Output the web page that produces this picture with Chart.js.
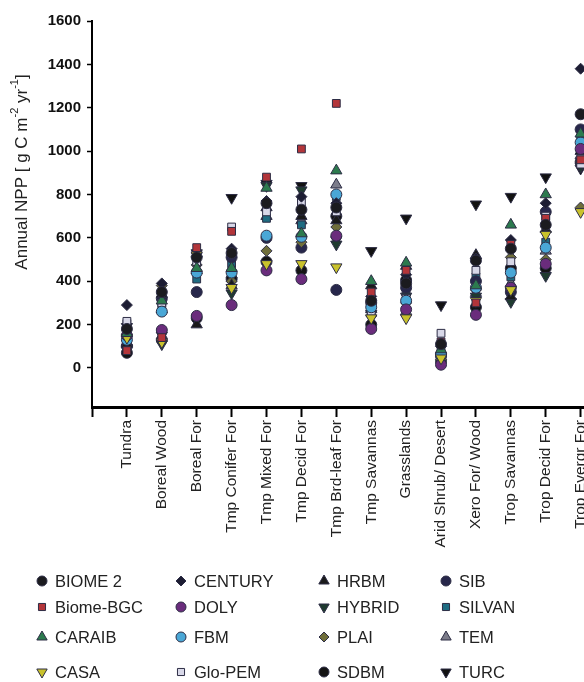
<!DOCTYPE html>
<html>
<head>
<meta charset="utf-8">
<script src="https://cdn.jsdelivr.net/npm/chart.js@4"></script>
<style>
  html, body { margin:0; padding:0; background:#fff; overflow:hidden; }
  #wrap { position:relative; width:584px; height:682px; overflow:hidden; font-family:"Liberation Sans", Arial, sans-serif; }
  #npp { position:absolute; left:0; top:0; }
  .lg { position:absolute; display:flex; align-items:center; font-size:16.5px; color:#222; white-space:nowrap; }
  .lg canvas { margin-right:6px; }
</style>
</head>
<body>
<div id="wrap">
  <canvas id="npp" width="600" height="580"></canvas>
  <div id="legend"></div>
</div>
<script>
// biome categories (x axis)
const biomes = ['Tundra','Boreal Wood','Boreal For','Tmp Conifer For','Tmp Mixed For','Tmp Decid For',
  'Tmp Brd-leaf For','Tmp Savannas','Grasslands','Arid Shrub/ Desert','Xero For/ Wood','Trop Savannas',
  'Trop Decid For','Trop Evergr For'];
const yTicks = [0,200,400,600,800,1000,1200,1400,1600];

// annual NPP per model, one value per biome (g C m-2 yr-1)
const biome2   = [180, 350, 510, 530, 760, 730, 740, 310, 390, 110, 495, 550, 660, 1170];
const biomeBgc = [ 80, 140, 555, 630, 880,1010,1220, 350, 450, 120, 300, 570, 690,  960];
const caraib   = [160, 310, 460, 460, 830, 620, 910, 400, 485,  85, 380, 660, 800, 1080];
const casa     = [140, 120, 520, 370, 480, 480, 465, 230, 230,  45, 310, 360, 615,  720];
const century  = [290, 390, 530, 550, 770, 790, 760, 330, 430, 100, 505, 590, 760, 1380];
const doly     = [150, 175, 240, 290, 450, 410, 610, 180, 270,  15, 245, 370, 480, 1010];
const fbm      = [130, 260, 440, 440, 610, 605, 800, 280, 310,  60, 370, 440, 555, 1040];
const gloPem   = [215, 300, 490, 650, 720, 765, 720, 260, 320, 160, 450, 490, 700,  940];
const hrbm     = [110, 340, 200, 380, 740, 700, 680, 380, 470,  80, 520, 330, 640, 1000];
const hybrid   = [ 90, 110, 500, 345, 840, 820, 570, 250, 330,  50, 330, 305, 425,  930];
const plai     = [100, 380, 475, 400, 540, 580, 650, 240, 300,  40, 360, 510, 500,  740];
const sdbm     = [ 70, 130, 230, 410, 490, 450, 700, 200, 405,  30, 280, 460, 460,  950];
const sib      = [100, 320, 350, 510, 600, 555, 360, 300, 370,  55, 400, 350, 720, 1100];
const silvan   = [205, 290, 410, 480, 690, 660, 790, 290, 350,  90, 420, 420, 580, 1060];
const tem      = [120, 270, 450, 430, 700, 680, 845, 270, 260,  70, 345, 390, 540,  980];
const turc     = [190, 150, 530, 785, 850, 840, 590, 540, 690, 290, 755, 790, 880,  920];

// name, values, style, colour, rotation, legend column/row
const models = [
  ['BIOME 2',   biome2,   'circle',   '#1b1b1f', 0,   0,0],
  ['Biome-BGC', biomeBgc, 'rect',     '#b3353a', 0,   0,1],
  ['CARAIB',    caraib,   'triangle', '#2c7a4e', 0,   0,2],
  ['CASA',      casa,     'triangle', '#c9c22c', 180, 0,3],
  ['CENTURY',   century,  'rectRot',  '#1d1d33', 0,   1,0],
  ['DOLY',      doly,     'circle',   '#6a2c7c', 0,   1,1],
  ['FBM',       fbm,      'circle',   '#4aa7d6', 0,   1,2],
  ['Glo-PEM',   gloPem,   'rect',     '#d8d8e8', 0,   1,3],
  ['HRBM',      hrbm,     'triangle', '#1a1a1a', 0,   2,0],
  ['HYBRID',    hybrid,   'triangle', '#1f3b2f', 180, 2,1],
  ['PLAI',      plai,     'rectRot',  '#6f6e3a', 0,   2,2],
  ['SDBM',      sdbm,     'circle',   '#141414', 0,   2,3],
  ['SIB',       sib,      'circle',   '#27274b', 0,   3,0],
  ['SILVAN',    silvan,   'rect',     '#1f6c82', 0,   3,1],
  ['TEM',       tem,      'triangle', '#7c7c8a', 0,   3,2],
  ['TURC',      turc,     'triangle', '#111111', 180, 3,3],
];

const datasets = models.map(([name, vals, style, col, rot]) => ({
  label: name,
  data: vals.map((v, i) => ({x: i, y: v})),
  pointStyle: style,
  rotation: rot,
  backgroundColor: col,
  borderColor: '#2d2d45',
  borderWidth: 1,
  pointRadius: style === 'triangle' ? 6.5 : 5.5,
  clip: false
}));

// y axis title with superscripts
const yTitle = {
  id: 'ytitle',
  afterDraw(chart){
    const ctx = chart.ctx;
    const parts = [['Annual NPP [ g C m',0],['-2',1],[' yr',0],['-1',1],[']',0]];
    const big = '17px "Liberation Sans", Arial, sans-serif', small = '11px "Liberation Sans", Arial, sans-serif';
    ctx.save();
    let total = 0;
    parts.forEach(([t,s]) => { ctx.font = s ? small : big; total += ctx.measureText(t).width; });
    ctx.translate(22, 172);
    ctx.rotate(-Math.PI/2);
    ctx.fillStyle = '#222';
    ctx.textBaseline = 'middle';
    let x = -total/2;
    parts.forEach(([t,s]) => {
      ctx.font = s ? small : big;
      ctx.fillText(t, x, s ? -7 : 0);
      x += ctx.measureText(t).width;
    });
    ctx.restore();
  }
};

// canvas is wider than the page; the plot runs off the right edge like the original
new Chart(document.getElementById('npp'), {
  type: 'scatter',
  data: { datasets },
  options: {
    responsive: false, animation: false, devicePixelRatio: 1,
    layout: { padding: { top: 21, left: 0, right: 0, bottom: 0 } },
    plugins: { legend: { display: false }, tooltip: { enabled: false } },
    scales: {
      x: {
        type: 'linear', min: -1, max: 13.34,
        afterBuildTicks: s => { s.ticks = [-1,0,1,2,3,4,5,6,7,8,9,10,11,12,13].map(v => ({value: v})); },
        afterFit: s => { s.height = 173; s.paddingLeft = 0; s.paddingRight = 0; },
        grid: { drawOnChartArea: false, drawTicks: true, tickLength: 10, tickWidth: 2, color: '#000' },
        border: { display: true, color: '#000', width: 3 },
        ticks: {
          autoSkip: false, minRotation: 90, maxRotation: 90, padding: 3,
          color: '#222', font: { size: 15.5, family: '"Liberation Sans", Arial, sans-serif' },
          callback: v => biomes[v] || ''
        }
      },
      y: {
        min: -180, max: 1600,
        afterBuildTicks: s => { s.ticks = yTicks.map(v => ({value: v})); },
        afterFit: s => { s.width = 92; s.paddingTop = 0; s.paddingBottom = 0; },
        grid: { drawOnChartArea: false, drawTicks: true, tickLength: 5, tickWidth: 1.5, color: '#000' },
        border: { display: true, color: '#000', width: 2 },
        ticks: {
          padding: 6, color: '#111',
          font: { size: 15, weight: 'bold', family: '"Liberation Sans", Arial, sans-serif' },
          callback: v => String(v)
        }
      }
    }
  },
  plugins: [yTitle]
});

// legend in four columns under the chart
const colMarker = [42, 181, 324, 446];
const rowY = [581, 607, 637, 672];
const legend = document.getElementById('legend');
models.forEach(([name, , style, col, rot, c, r]) => {
  const item = document.createElement('div');
  item.className = 'lg';
  item.style.left = (colMarker[c] - 7) + 'px';
  item.style.top = (rowY[r] - 10) + 'px';
  item.style.height = '20px';
  const cv = document.createElement('canvas');
  cv.width = 14; cv.height = 14;
  const cx = cv.getContext('2d');
  cx.fillStyle = col; cx.strokeStyle = '#2d2d45'; cx.lineWidth = 1;
  Chart.helpers.drawPoint(cx, { pointStyle: style, radius: style === 'triangle' ? 6 : 5, rotation: rot, borderWidth: 1 }, 7, 7);
  item.appendChild(cv);
  const span = document.createElement('span');
  span.textContent = name;
  item.appendChild(span);
  legend.appendChild(item);
});
</script>
</body>
</html>
